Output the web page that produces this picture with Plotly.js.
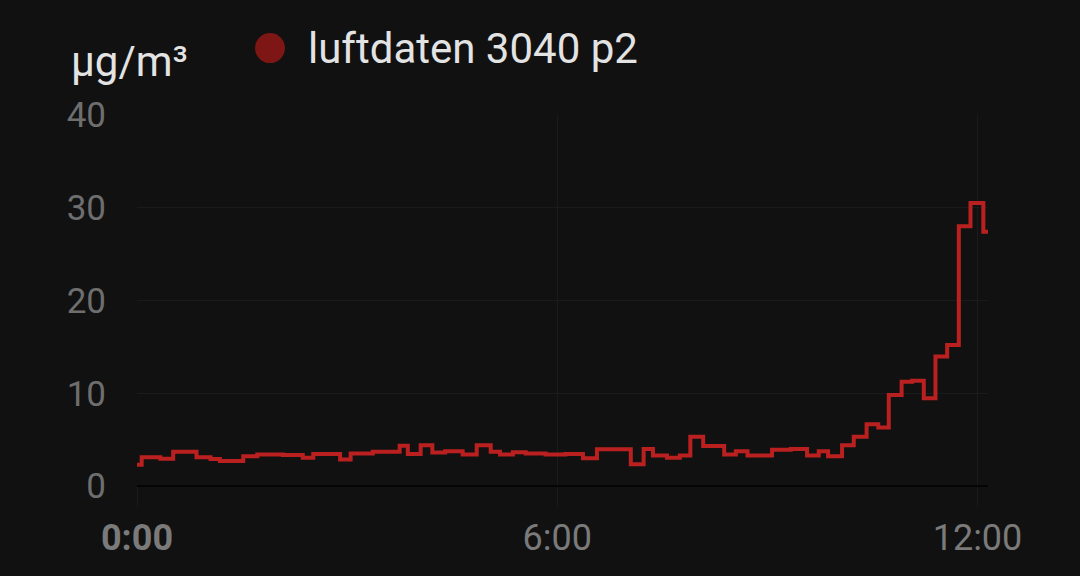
<!DOCTYPE html>
<html>
<head>
<meta charset="utf-8">
<script src="https://cdn.plot.ly/plotly-3.0.1.min.js"></script>
<style>
  html, body { margin: 0; padding: 0; background: #111111; }
  #chart { width: 1080px; height: 576px; }
</style>
</head>
<body>
<div id="chart"></div>
<script>
// Sample times (step starts) and PM2.5 values in µg/m³
const times = [
  "00:00","00:04","00:20","00:31","00:51","01:03","01:11","01:31","01:43","02:05",
  "02:22","02:31","02:54","03:03","03:22","03:45","03:52","04:03","04:13","04:24",
  "04:39","04:51","05:03","05:11","05:22","05:33","05:50","06:07","06:22","06:34",
  "07:03","07:14","07:22","07:34","07:45","07:54","08:05","08:23","08:33","08:43",
  "09:04","09:20","09:34","09:44","09:52","10:04","10:14","10:25","10:35","10:44",
  "10:55","11:04","11:14","11:24","11:34","11:44","11:54","12:05","12:09"
];
const values = [
  2.3, 3.1, 2.95, 3.7, 3.1, 2.9, 2.7, 3.2, 3.4, 3.35,
  3.05, 3.45, 2.85, 3.5, 3.7, 4.35, 3.45, 4.4, 3.6, 3.75,
  3.4, 4.4, 3.7, 3.4, 3.65, 3.5, 3.4, 3.45, 3.0, 3.95,
  2.35, 4.0, 3.3, 3.05, 3.3, 5.3, 4.3, 3.4, 3.75, 3.3,
  3.9, 4.0, 3.3, 3.75, 3.2, 4.4, 5.3, 6.65, 6.3, 9.8,
  11.25, 11.35, 9.45, 13.95, 15.2, 28.0, 30.5, 27.4, 27.4
];
const day = "2024-01-01 ";
const xTickVals = ["00:00", "06:00", "12:00"];
const xTickText = ["<b>0:00</b>", "6:00", "12:00"];
const yTickVals = [0, 10, 20, 30, 40];
const seriesName = "luftdaten 3040 p2";
const unitLabel = "µg/m³";

const x = times.map(t => day + t);

const trace = {
  x: x,
  y: values,
  type: "scatter",
  mode: "lines",
  line: { shape: "hv", color: "#bb2020", width: 4 },
  name: seriesName,
  showlegend: false,
  hoverinfo: "x+y"
};

const layout = {
  width: 1080,
  height: 576,
  paper_bgcolor: "#111111",
  plot_bgcolor: "#111111",
  margin: { l: 137, r: 92, t: 115, b: 90 },
  font: { family: "Roboto, sans-serif", color: "#737373", size: 35 },
  showlegend: false,
  xaxis: {
    type: "date",
    range: [x[0], x[x.length - 1]],
    tickvals: xTickVals.map(t => day + t),
    ticktext: xTickText,
    tickfont: { size: 36, color: "#7a7a7a" },
    showgrid: true,
    gridcolor: "#1b1b1b",
    gridwidth: 1,
    ticks: "outside",
    ticklen: 20,
    tickcolor: "#1b1b1b",
    ticklabelstandoff: 0,
    zeroline: false,
    showline: false
  },
  yaxis: {
    range: [0, 40],
    tickvals: yTickVals,
    tickfont: { size: 35, color: "#6e6e6e" },
    showgrid: true,
    gridcolor: "#1b1b1b",
    gridwidth: 1,
    zeroline: true,
    zerolinecolor: "#050505",
    zerolinewidth: 2,
    ticks: "",
    ticklabelstandoff: 30,
    showline: false
  },
  shapes: [
    {
      type: "circle", xref: "paper", yref: "paper",
      x0: 0.1387, x1: 0.1739, y0: 1.140, y1: 1.221,
      fillcolor: "#7e1616", line: { width: 0 }
    }
  ],
  annotations: [
    {
      text: seriesName, xref: "paper", yref: "paper",
      x: 0.1990, y: 1.180, xanchor: "left", yanchor: "middle",
      showarrow: false, font: { size: 42, color: "#e3e3e3", family: "Roboto, sans-serif" }
    },
    {
      text: unitLabel, xref: "paper", yref: "paper",
      x: -0.0800, y: 1.143, xanchor: "left", yanchor: "middle",
      showarrow: false, font: { size: 42, color: "#e3e3e3", family: "Roboto, sans-serif" }
    }
  ]
};

Plotly.newPlot("chart", [trace], layout, { displayModeBar: false, staticPlot: true });
</script>
</body>
</html>
